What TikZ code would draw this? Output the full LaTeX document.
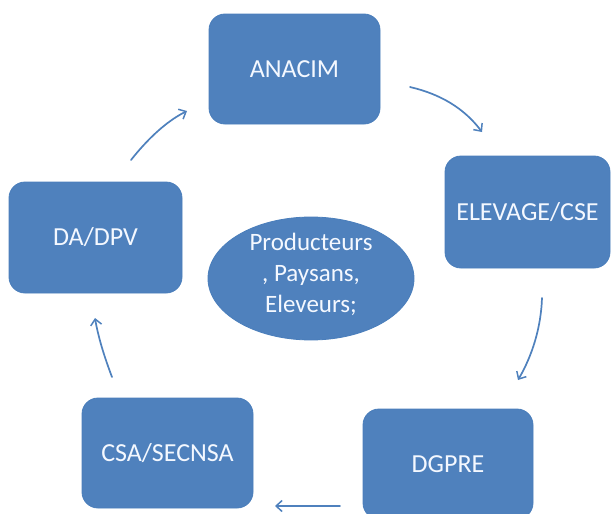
\documentclass[tikz,border=0pt]{standalone}
\usepackage{fontspec}
\setmainfont{Carlito}
\usetikzlibrary{shapes.geometric,arrows.meta}
\definecolor{officeblue}{HTML}{4F81BD}
\definecolor{edgeblue}{HTML}{4A7EBB}
\definecolor{textwhite}{HTML}{F4F8FF}
\begin{document}
\begin{tikzpicture}[x=1pt,y=-1pt,
  boxnode/.style={draw=edgeblue,line width=0.8pt,fill=officeblue,rounded corners=16pt,
    text=textwhite,font=\fontsize{26}{31}\selectfont,align=center,inner sep=0pt},
  ovalnode/.style={ellipse,draw=edgeblue,line width=0.8pt,fill=officeblue,inner sep=0pt},
  flow/.style={draw=officeblue,line width=1.7pt,line cap=round,
    -{Straight Barb[length=6pt,width=11pt,line width=1.5pt]}}]
\useasboundingbox (0,0) rectangle (611,514);
\node[boxnode,minimum width=171pt,minimum height=110pt] (anacim) at (294.5,69) {ANACIM};
\node[boxnode,minimum width=165pt,minimum height=112pt] (elevage) at (527.5,212) {ELEVAGE/CSE};
\node[boxnode,minimum width=170pt,minimum height=110pt] (dgpre) at (448,464) {DGPRE};
\node[boxnode,minimum width=171pt,minimum height=110pt] (csa) at (167.5,453) {CSA/SECNSA};
\node[boxnode,minimum width=173pt,minimum height=111pt] (dadpv) at (95.5,237.5) {DA/DPV};
\node[ovalnode,minimum width=206pt,minimum height=123pt] (prod) at (311,278.5) {};
\node[text=textwhite,font=\fontsize{25}{31}\selectfont,align=center] (prodtext) at (311,274) {Producteurs\\, Paysans,\\Eleveurs;};
\coordinate (a1s) at (410,87);
\coordinate (a1e) at (482,132);
\coordinate (a2s) at (542,298);
\coordinate (a2e) at (518,380);
\coordinate (a3s) at (340,506);
\coordinate (a3e) at (275,506);
\coordinate (a4s) at (112,377);
\coordinate (a4e) at (95,318);
\coordinate (a5s) at (131,160);
\coordinate (a5e) at (187,111);
\draw[flow] (a1s) .. controls (440,94) and (464,108) .. (a1e);
\draw[flow] (a2s) .. controls (541,328) and (532,356) .. (a2e);
\draw[flow] (a3s) -- (a3e);
\draw[flow] (a4s) .. controls (104,356) and (98,336) .. (a4e);
\draw[flow] (a5s) .. controls (146,141) and (165,122) .. (a5e);
\end{tikzpicture}
\end{document}
